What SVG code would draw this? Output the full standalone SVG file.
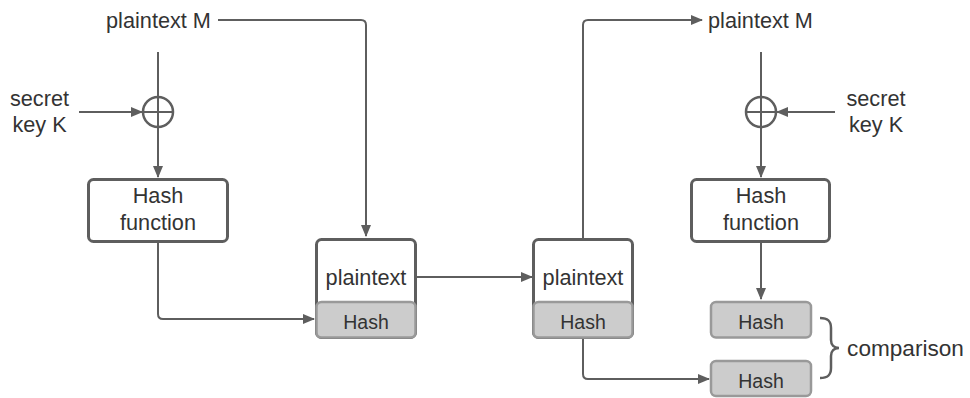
<svg xmlns="http://www.w3.org/2000/svg" width="970" height="398" viewBox="0 0 970 398">
<defs>
<marker id="ah" markerWidth="12" markerHeight="10" refX="11" refY="5" orient="auto" markerUnits="userSpaceOnUse">
<path d="M0,0 L12,5 L0,10 Z" fill="#5e5e5e"/>
</marker>
<style>
.t{font-family:"Liberation Sans",Arial,sans-serif;font-size:21.7px;fill:#333;text-anchor:middle;dominant-baseline:central}
.h{font-family:"Liberation Sans",Arial,sans-serif;font-size:19.5px;fill:#333;text-anchor:middle;dominant-baseline:central}
.box{fill:#fff;stroke:#5e5e5e;stroke-width:3}
.hb{fill:#cccccc;stroke:#999;stroke-width:2.5}
.c{fill:none;stroke:#5e5e5e;stroke-width:2}
.x{fill:#fff;stroke:#5e5e5e;stroke-width:2.5}
</style>
</defs>
<rect width="970" height="398" fill="#fff"/>
<g id="connectors">
<path class="c" d="M218,20 H361 Q366,20 366,25 V236" marker-end="url(#ah)"/>
<path class="c" d="M158,52 V97"/>
<path class="c" d="M158,127 V177" marker-end="url(#ah)"/>
<path class="c" d="M79,112 H142" marker-end="url(#ah)"/>
<path class="c" d="M158,242 V314 Q158,319 163,319 H314" marker-end="url(#ah)"/>
<path class="c" d="M417,277 H532" marker-end="url(#ah)"/>
<path class="c" d="M583,239 V25 Q583,20 588,20 H702" marker-end="url(#ah)"/>
<path class="c" d="M761,52 V97"/>
<path class="c" d="M761,127 V177" marker-end="url(#ah)"/>
<path class="c" d="M835,112 H777" marker-end="url(#ah)"/>
<path class="c" d="M761,242 V299" marker-end="url(#ah)"/>
<path class="c" d="M583,339 V374 Q583,379 588,379 H709" marker-end="url(#ah)"/>
<path d="M820,318 C828,318 831,321 831,328 L831,340 C831,345 834,348 839,348 C834,348 831,351 831,356 L831,368 C831,375 828,378 820,378" fill="none" stroke="#5e5e5e" stroke-width="2.5"/>
</g>
<g id="plaintextM1"><text class="t" x="158.5" y="20">plaintext M</text></g>
<g id="secretK1"><text class="t" x="39.5" y="98">secret</text><text class="t" x="39.5" y="124">key K</text></g>
<g id="xor1"><circle class="x" cx="158" cy="112" r="15"/><path class="c" d="M143,112 H173 M158,97 V127" stroke-width="2.5"/></g>
<g id="hashfn1"><rect class="box" x="88.5" y="179.5" width="139" height="62" rx="5"/><text class="t" x="158" y="195">Hash</text><text class="t" x="158" y="222">function</text></g>
<g id="msg1"><rect class="box" x="316.5" y="239.5" width="99" height="98" rx="5"/><text class="t" x="366" y="277">plaintext</text><rect class="hb" x="316.5" y="302" width="99" height="35.5" rx="5"/><text class="h" x="366" y="322">Hash</text></g>
<g id="msg2"><rect class="box" x="533.5" y="239.5" width="99" height="98" rx="5"/><text class="t" x="583" y="277">plaintext</text><rect class="hb" x="533.5" y="302" width="99" height="35.5" rx="5"/><text class="h" x="583" y="322">Hash</text></g>
<g id="plaintextM2"><text class="t" x="760.5" y="20">plaintext M</text></g>
<g id="secretK2"><text class="t" x="876" y="98">secret</text><text class="t" x="876" y="124">key K</text></g>
<g id="xor2"><circle class="x" cx="761" cy="112" r="15"/><path class="c" d="M746,112 H776 M761,97 V127" stroke-width="2.5"/></g>
<g id="hashfn2"><rect class="box" x="691.5" y="179.5" width="138" height="62" rx="5"/><text class="t" x="761" y="195">Hash</text><text class="t" x="761" y="222">function</text></g>
<g id="hash3"><rect class="hb" x="711" y="302" width="100" height="35.5" rx="5"/><text class="h" x="761" y="322">Hash</text></g>
<g id="hash4"><rect class="hb" x="711" y="361" width="100" height="35" rx="5"/><text class="h" x="761" y="381">Hash</text></g>
<g id="comparison"><text class="t" x="905.5" y="348" style="font-size:22.6px">comparison</text></g>
</svg>
